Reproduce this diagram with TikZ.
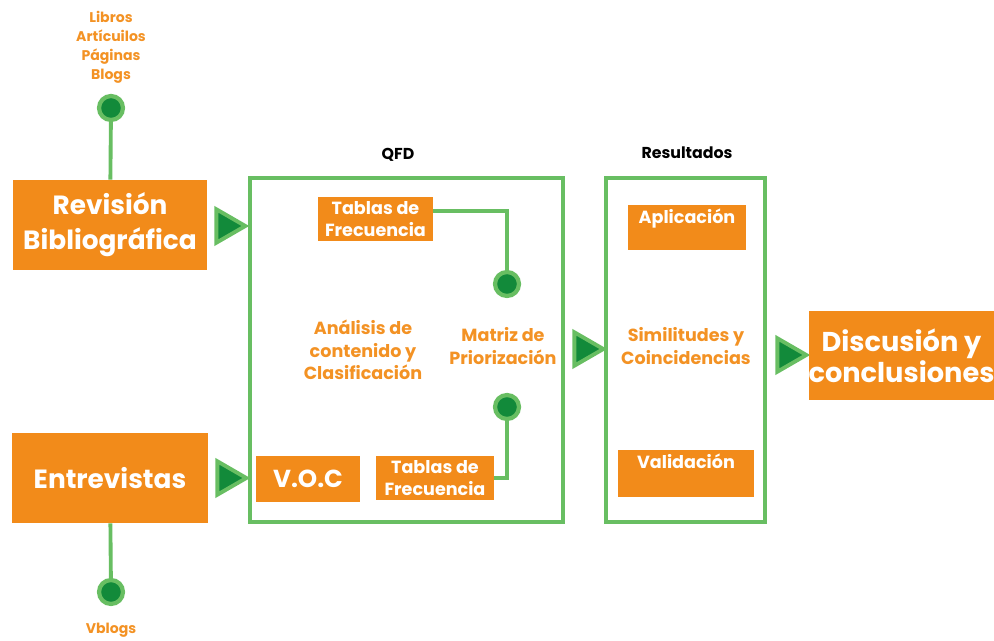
\documentclass[tikz,border=0pt]{standalone}
\usepackage{fontspec}
\setmainfont{Poppins}
\usepackage{tikz}
\usetikzlibrary{shapes.geometric}
\usetikzlibrary{positioning}

\definecolor{boxOrange}{RGB}{242,139,26}
\definecolor{txtOrange}{RGB}{243,146,36}
\definecolor{lineGreen}{RGB}{104,190,98}
\definecolor{dotGreen}{RGB}{18,138,58}

\tikzset{
    orangebox/.style={fill=boxOrange, text=white, font=\bfseries, inner sep=0pt, align=center},
    frame/.style={draw=lineGreen, line width=2.2pt, inner sep=0pt},
    link/.style={draw=lineGreen, line width=2.2pt},
    dot/.style={circle, draw=lineGreen, fill=dotGreen, line width=2.4pt, inner sep=0pt, minimum size=0.48cm},
    flowtip/.style={isosceles triangle, isosceles triangle apex angle=60, draw=lineGreen, fill=dotGreen,
        line width=2.2pt, inner sep=0pt, minimum height=0.58cm},
    note/.style={text=txtOrange, font=\bfseries, align=center, inner sep=0pt},
    head/.style={text=black, font=\bfseries\fontsize{9}{11}\selectfont, inner sep=0pt}
}

\begin{document}
\begin{tikzpicture}[x=0.02cm, y=-0.02cm]
    \useasboundingbox (0,0) rectangle (994,641);
    % sources
    \node[note, font=\bfseries\fontsize{8}{10.8}\selectfont] (sources) at (111,47) {Libros\\Artícuilos\\Páginas\\Blogs};
    \node[dot] (dotTop) at (111,108) {};
    \node[orangebox, minimum width=3.88cm, minimum height=1.8cm, font=\bfseries\fontsize{15}{20}\selectfont] (revision) at (110,225) {Revisión\\Bibliográfica};
    \node[orangebox, minimum width=3.92cm, minimum height=1.8cm, font=\bfseries\fontsize{15}{20}\selectfont] (interviews) at (110,478) {Entrevistas};
    \node[dot] (dotBottom) at (111,592) {};
    \node[note, font=\bfseries\fontsize{8}{10.8}\selectfont] (vblogs) at (111,630) {Vblogs};
    \draw[link] (dotTop) -- (revision);
    \draw[link] (interviews) -- (dotBottom);
    \node[flowtip] (tipRev) at (226,226) {};
    \node[flowtip] (tipInt) at (227,478) {};
    % QFD
    \node[frame, minimum width=6.26cm, minimum height=6.88cm] (qfd) at (406.5,350) {};
    \node[head] (qfdTitle) at (398,155) {QFD};
    \node[orangebox, minimum width=2.3cm, minimum height=0.88cm, font=\bfseries\fontsize{10}{13}\selectfont] (tableTop) at (375.5,219) {Tablas de\\Frecuencia};
    \node[orangebox, minimum width=2.36cm, minimum height=0.88cm, font=\bfseries\fontsize{10}{13}\selectfont] (tableBottom) at (435,478) {Tablas de\\Frecuencia};
    \node[orangebox, minimum width=2.08cm, minimum height=0.92cm, font=\bfseries\fontsize{14}{16}\selectfont] (voc) at (308,479) {V.O.C};
    \node[dot] (dotMatTop) at (507,284) {};
    \node[dot] (dotMatBottom) at (507,407) {};
    \draw[link] ([yshift=0.16cm]tableTop.east) -| (dotMatTop);
    \draw[link] (dotMatBottom) |- (tableBottom.east);
    \node[note, font=\bfseries\fontsize{10}{12.8}\selectfont] (analysis) at (363,350) {Análisis de\\contenido y\\Clasificación};
    \node[note, font=\bfseries\fontsize{10}{12.8}\selectfont] (matrix) at (503,346) {Matriz de\\Priorización};
    \node[flowtip] (tipQfd) at (584,349) {};
    % results
    \node[frame, minimum width=3.18cm, minimum height=6.88cm] (results) at (685.5,350) {};
    \node[head] (resTitle) at (687,153) {Resultados};
    \node[orangebox, anchor=north, minimum width=2.36cm, text height=0.36cm, text depth=0.54cm, font=\bfseries\fontsize{10}{12}\selectfont] (application) at (687,205) {Aplicación};
    \node[note, font=\bfseries\fontsize{10}{12.8}\selectfont] (similar) at (686,346) {Similitudes y\\Coincidencias};
    \node[orangebox, anchor=north, minimum width=2.72cm, text height=0.36cm, text depth=0.58cm, font=\bfseries\fontsize{10}{12}\selectfont] (validation) at (686,450) {Validación};
    \node[flowtip] (tipRes) at (787,355) {};
    \node[orangebox, minimum width=3.7cm, minimum height=1.78cm, font=\bfseries\fontsize{15.5}{17.6}\selectfont] (discussion) at (901.5,355.5) {Discusión y\\conclusiones};
\end{tikzpicture}
\end{document}
